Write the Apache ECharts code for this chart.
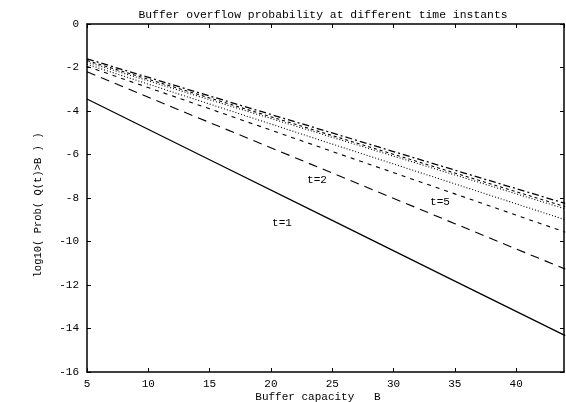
<!DOCTYPE html>
<html>
<head>
<meta charset="utf-8">
<script src="https://cdn.jsdelivr.net/npm/echarts@6/dist/echarts.min.js"></script>
<style>html,body{margin:0;padding:0;background:#fff}#c{width:566px;height:402px}</style>
</head>
<body>
<div id="c"></div>
<script>
var xValues = [5, 15, 25, 35, 44];
var seriesA = [-1.60, -3.31, -5.01, -6.72, -8.25];
var seriesB = [-1.68, -3.40, -5.13, -6.85, -8.40];
var seriesC = [-1.75, -3.48, -5.21, -6.94, -8.50];
var seriesD = [-1.85, -3.68, -5.52, -7.35, -9.00];
var seriesT5 = [-1.95, -3.90, -5.86, -7.81, -9.57];
var seriesT2 = [-2.20, -4.53, -6.85, -9.18, -11.27];
var seriesT1 = [-3.45, -6.24, -9.03, -11.82, -14.33];
var xTicks = [5, 10, 15, 20, 25, 30, 35, 40];
var yTicks = [0, -2, -4, -6, -8, -10, -12, -14, -16];

var FONT = '"Liberation Mono", "DejaVu Sans Mono", monospace';
function pairs(v){ return xValues.map(function(x,i){ return [x, v[i]]; }); }
function line(name, data, type, w){
  return { name: name, type: 'line', data: pairs(data), symbol: 'none', silent: true,
    lineStyle: { color: '#000', width: w || 1.1, type: type } };
}
var chart = echarts.init(document.getElementById('c'));
var axisLine = { show: true, onZero: false, lineStyle: { color: '#000', width: 1.5 } };
chart.setOption({
  animation: false,
  title: { text: 'Buffer overflow probability at different time instants', left: 318, top: 4,
    textAlign: 'center',
    textStyle: { fontFamily: FONT, fontSize: 11.4, fontWeight: 'normal', color: '#000' } },
  grid: { left: 87, right: 2, top: 24, bottom: 30 },
  xAxis: [
    { type: 'value', min: 5, max: 43.9, interval: 5, position: 'bottom',
      axisLine: axisLine, splitLine: { show: false },
      axisTick: { inside: true, length: 4, lineStyle: { color: '#000' } },
      axisLabel: { showMaxLabel: false, margin: 7, fontFamily: FONT, fontSize: 11, color: '#000' } },
    { type: 'value', min: 5, max: 43.9, interval: 5, position: 'top',
      axisLine: axisLine, splitLine: { show: false },
      axisTick: { inside: true, length: 4, lineStyle: { color: '#000' } },
      axisLabel: { show: false } }
  ],
  yAxis: [
    { type: 'value', min: -16, max: 0, interval: 2, position: 'left',
      axisLine: axisLine, splitLine: { show: false },
      axisTick: { inside: true, length: 4, lineStyle: { color: '#000' } },
      axisLabel: { margin: 8, fontFamily: FONT, fontSize: 11, color: '#000' } },
    { type: 'value', min: -16, max: 0, interval: 2, position: 'right',
      axisLine: axisLine, splitLine: { show: false },
      axisTick: { inside: true, length: 4, lineStyle: { color: '#000' } },
      axisLabel: { show: false } }
  ],
  graphic: [
    { type: 'text', x: 38, y: 205, rotation: Math.PI / 2, style: { text: 'log10( Prob( Q(t)>B ) )',
      font: '10.5px ' + FONT, fill: '#000', textAlign: 'center', textVerticalAlign: 'middle' } },
    { type: 'text', x: 318, y: 397, style: { text: 'Buffer capacity   B', font: '11px ' + FONT,
      fill: '#000', textAlign: 'center', textVerticalAlign: 'middle' } },
    { type: 'text', x: 282, y: 223, style: { text: 't=1', font: '11px ' + FONT,
      fill: '#000', textAlign: 'center', textVerticalAlign: 'middle' } },
    { type: 'text', x: 317, y: 180, style: { text: 't=2', font: '11px ' + FONT,
      fill: '#000', textAlign: 'center', textVerticalAlign: 'middle' } },
    { type: 'text', x: 440, y: 202, style: { text: 't=5', font: '11px ' + FONT,
      fill: '#000', textAlign: 'center', textVerticalAlign: 'middle' } }
  ],
  series: [
    line('A', seriesA, [7, 3, 2, 3], 1.3),
    line('B', seriesB, [3, 3], 1.1),
    line('C', seriesC, [1, 2], 1.1),
    line('D', seriesD, [1, 2], 1.1),
    line('t=5', seriesT5, [4, 5], 1.1),
    line('t=2', seriesT2, [9, 6], 1.1),
    line('t=1', seriesT1, 'solid', 1.3)
  ]
});
</script>
</body>
</html>
